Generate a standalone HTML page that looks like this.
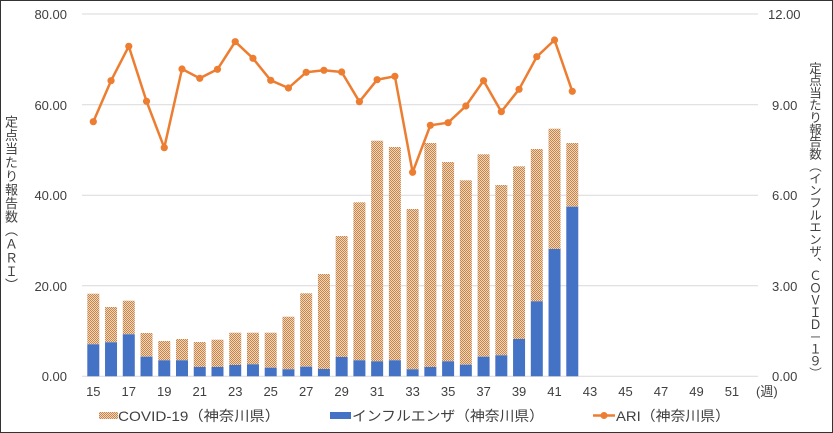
<!DOCTYPE html>
<html><head><meta charset="utf-8"><style>
html,body{margin:0;padding:0;background:#fff}
body{position:relative;width:833px;height:433px;overflow:hidden}
svg{display:block;position:absolute;left:0;top:0}
text{font-family:"Liberation Sans","Noto Sans CJK JP",sans-serif;fill:#404040}
.vt{position:absolute;writing-mode:vertical-rl;text-orientation:upright;font-family:"Liberation Sans","Noto Sans CJK JP",sans-serif;color:#404040;font-size:13px;line-height:14px;white-space:nowrap}
</style></head><body>
<svg id="c" width="833" height="433" viewBox="0 0 833 433" xmlns="http://www.w3.org/2000/svg">
<defs>
<pattern id="p" width="2" height="2" patternUnits="userSpaceOnUse">
<rect width="2" height="2" fill="#eed6bc"/>
<rect x="0" y="0" width="1" height="1" fill="#c8854a"/>
<rect x="1" y="1" width="1" height="1" fill="#c8854a"/>
</pattern>
</defs>
<rect x="0.5" y="0.5" width="832" height="432" fill="#fff" stroke="#333"/>
<g stroke="#d9d9d9" stroke-width="1">
<line x1="82" x2="758" y1="14" y2="14"/>
<line x1="82" x2="758" y1="104.7" y2="104.7"/>
<line x1="82" x2="758" y1="195.2" y2="195.2"/>
<line x1="82" x2="758" y1="285.8" y2="285.8"/>
<line x1="82" x2="758" y1="376.3" y2="376.3"/>
</g>
<g font-size="13" text-anchor="end">
<text x="67" y="19">80.00</text><text x="67" y="110">60.00</text><text x="67" y="200">40.00</text><text x="67" y="291">20.00</text><text x="67" y="381">0.00</text>
</g>
<g font-size="13" text-anchor="start">
<text x="768" y="19">12.00</text><text x="772" y="110">9.00</text><text x="772" y="200">6.00</text><text x="772" y="291">3.00</text><text x="772" y="381">0.00</text>
</g>
<g id="bars"></g>
<g id="xl" font-size="13" text-anchor="middle"></g>
<text x="756" y="396" font-size="13">(週)</text>
<g id="line"></g>
<g font-size="14">
<rect x="99" y="412" width="19" height="7" fill="url(#p)"/>
<text x="118" y="421" textLength="162" lengthAdjust="spacingAndGlyphs">COVID-19（神奈川県）</text>
<rect x="330" y="412" width="21" height="7" fill="#4472c4"/>
<text x="352" y="421" textLength="192" lengthAdjust="spacingAndGlyphs">インフルエンザ（神奈川県）</text>
<line x1="593" x2="615" y1="415.5" y2="415.5" stroke="#ed7d31" stroke-width="2.5"/>
<circle cx="604" cy="415.5" r="3.5" fill="#ed7d31"/>
<text x="616" y="421" textLength="114" lengthAdjust="spacingAndGlyphs">ARI（神奈川県）</text>
</g>
</svg>
<div class="vt" style="left:3px;top:115px;letter-spacing:0.6px;font-size:13px">定点当たり報告数（ＡＲＩ）</div>
<div class="vt" style="left:807px;top:62px;letter-spacing:-0.3px;font-size:12.5px">定点当たり報告数（インフルエンザ、ＣＯＶＩＤ－１９）</div>
<script>
var NS="http://www.w3.org/2000/svg";
function el(t,a,p){var e=document.createElementNS(NS,t);for(var k in a)e.setAttribute(k,a[k]);p.appendChild(e);return e;}
var tot=[293.7,307,300.7,333,341,339,342,339.7,332.7,332.7,332.7,316.7,293.3,274,236,202.3,140.7,147,209,143,162,180.3,154.3,185,166.3,149,128.7,143];
var blu=[344.3,342.3,334.3,356.7,360.3,360.3,367,367,365,364.3,367.7,369.3,366.7,369,357,360.3,361.3,360.3,369.3,367,361.3,364.7,356.7,355.3,339,301.3,249,206.7];
var ln=[121.7,80.7,46.3,101.3,147.7,69,78.3,69.3,41.7,58.3,80.3,88,72.3,70.3,72,101.7,79.7,76.3,172.3,125.3,122.7,106,80.7,111.7,89.3,56.7,40,91.3];
var B=376.3,st=17.74,x0=93.3;
var bars=document.getElementById('bars'),xl=document.getElementById('xl'),lg=document.getElementById('line');
for(var i=0;i<tot.length;i++){var cx=x0+i*st;
el('rect',{x:cx-6,y:tot[i],width:12,height:blu[i]-tot[i],fill:'url(#p)'},bars);
el('rect',{x:cx-6,y:blu[i],width:12,height:B-blu[i],fill:'#4472c4'},bars);}
for(var w=15;w<=51;w+=2){var t=el('text',{x:x0+(w-15)*st,y:396},xl);t.textContent=w;}
var pts=ln.map(function(y,i){return (x0+i*st)+','+y}).join(' ');
el('polyline',{points:pts,fill:'none',stroke:'#ed7d31','stroke-width':2.5,'stroke-linejoin':'round'},lg);
ln.forEach(function(y,i){el('circle',{cx:x0+i*st,cy:y,r:3.6,fill:'#ed7d31'},lg);});
</script>
</body></html>
